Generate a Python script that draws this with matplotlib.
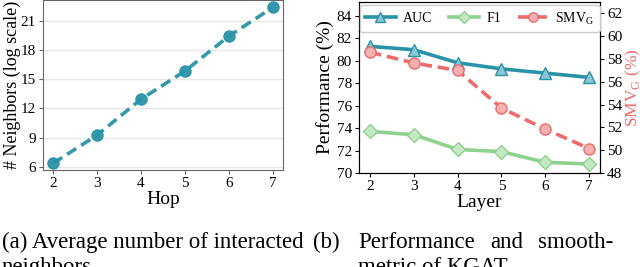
import matplotlib
matplotlib.use("Agg")
import matplotlib.pyplot as plt

plt.rcParams["font.family"] = ["Liberation Serif", "DejaVu Serif"]
plt.rcParams["mathtext.fontset"] = "custom"
plt.rcParams["mathtext.rm"] = "Liberation Serif"

# (a) neighbors per hop
hops = [2, 3, 4, 5, 6, 7]
neighbors = [6.35, 9.25, 12.95, 15.85, 19.45, 22.4]

# (b) performance per layer
layers = [2, 3, 4, 5, 6, 7]
auc = [81.26, 80.96, 79.8, 79.26, 78.88, 78.5]
f1 = [73.7, 73.4, 72.1, 71.9, 70.95, 70.8]
smv = [58.6, 57.65, 57.0, 53.7, 51.85, 50.15]

TEAL = "#2a93a8"
GREEN = "#8fd18f"
RED = "#ec6b6b"

fig = plt.figure(figsize=(6.4, 2.67), dpi=100)

# ---- left panel
ax1 = fig.add_axes([0.0672, 0.3633, 0.375, 0.6367])
ax1.plot(hops, neighbors, color=TEAL, lw=2.6, ls=(0, (3, 1.6)), marker="o", ms=8,
         mfc=TEAL, mec=TEAL, alpha=0.95)
ax1.set_xlim(1.77, 7.23)
ax1.set_ylim(5.66, 23.16)
ax1.set_yticks([6, 9, 12, 15, 18, 21])
ax1.set_xticks(hops)
ax1.grid(axis="y", color="#e8e8e8", lw=1)
ax1.set_axisbelow(True)
for s in ax1.spines.values():
    s.set_color("#666666")
ax1.tick_params(labelsize=11, length=3, color="#666666", pad=2)
ax1.set_xlabel("Hop", fontsize=14, labelpad=1)
ax1.set_ylabel("# Neighbors (log scale)", fontsize=13)
ax1.yaxis.set_label_coords(-0.09, 0.5)

# ---- right panel
ax2 = fig.add_axes([0.561, 0.352, 0.3766, 0.6404])
l1, = ax2.plot(layers, auc, color=TEAL, lw=2.6, marker="^", ms=8,
               mfc="#8cc6d2", mec=TEAL, label="AUC")
l2, = ax2.plot(layers, f1, color=GREEN, lw=2.6, marker="D", ms=7.5,
               mfc="#c4e8c4", mec=GREEN, label="F1")
ax2.set_xlim(1.75, 7.25)
ax2.set_ylim(70, 85.2)
ax2.set_yticks([70, 72, 74, 76, 78, 80, 82, 84])
ax2.set_xticks(layers)
ax2.tick_params(labelsize=11, length=3, pad=2)
ax2.set_xlabel("Layer", fontsize=14, labelpad=1)
ax2.set_ylabel("Performance (%)", fontsize=14, labelpad=2)

ax3 = ax2.twinx()
l3, = ax3.plot(layers, smv, color=RED, lw=2.6, ls=(0, (3.2, 1.6)), marker="o", ms=8,
               mfc="#f4b0b0", mec=RED, label="SMV$_\\mathrm{G}$")
ax3.set_ylim(48, 63)
ax3.set_yticks([48, 50, 52, 54, 56, 58, 60, 62])
ax3.tick_params(labelsize=11, length=3, pad=2)
ax3.set_ylabel("SMV$_\\mathrm{G}$ (%)", fontsize=12.5, color=RED)
ax3.yaxis.set_label_coords(1.098, 0.5)

ax3.legend(handles=[l1, l2, l3], loc="upper center", ncol=3,
           bbox_to_anchor=(0.5, 0.985), fontsize=10,
           handlelength=2.2, handletextpad=0.5, columnspacing=1.2,
           borderaxespad=0.0, frameon=True, markerscale=0.85,
           edgecolor="#cccccc", fancybox=True, framealpha=1)

# ---- captions (cut off at the bottom, as in the paper)
fs = 16.5
fig.text(2 / 640, 1 - 248 / 267, "(a) Average number of interacted", fontsize=fs)
fig.text(2 / 640, 1 - 273 / 267, "neighbors", fontsize=fs)
fig.text(313 / 640, 1 - 248 / 267, "(b)", fontsize=fs)
fig.text(358 / 640, 1 - 248 / 267, "Performance", fontsize=fs)
fig.text(490 / 640, 1 - 248 / 267, "and", fontsize=fs)
fig.text(538 / 640, 1 - 248 / 267, "smooth-", fontsize=fs)
fig.text(358 / 640, 1 - 273 / 267, "metric of KGAT", fontsize=fs)

fig.savefig("out.png", dpi=100)
